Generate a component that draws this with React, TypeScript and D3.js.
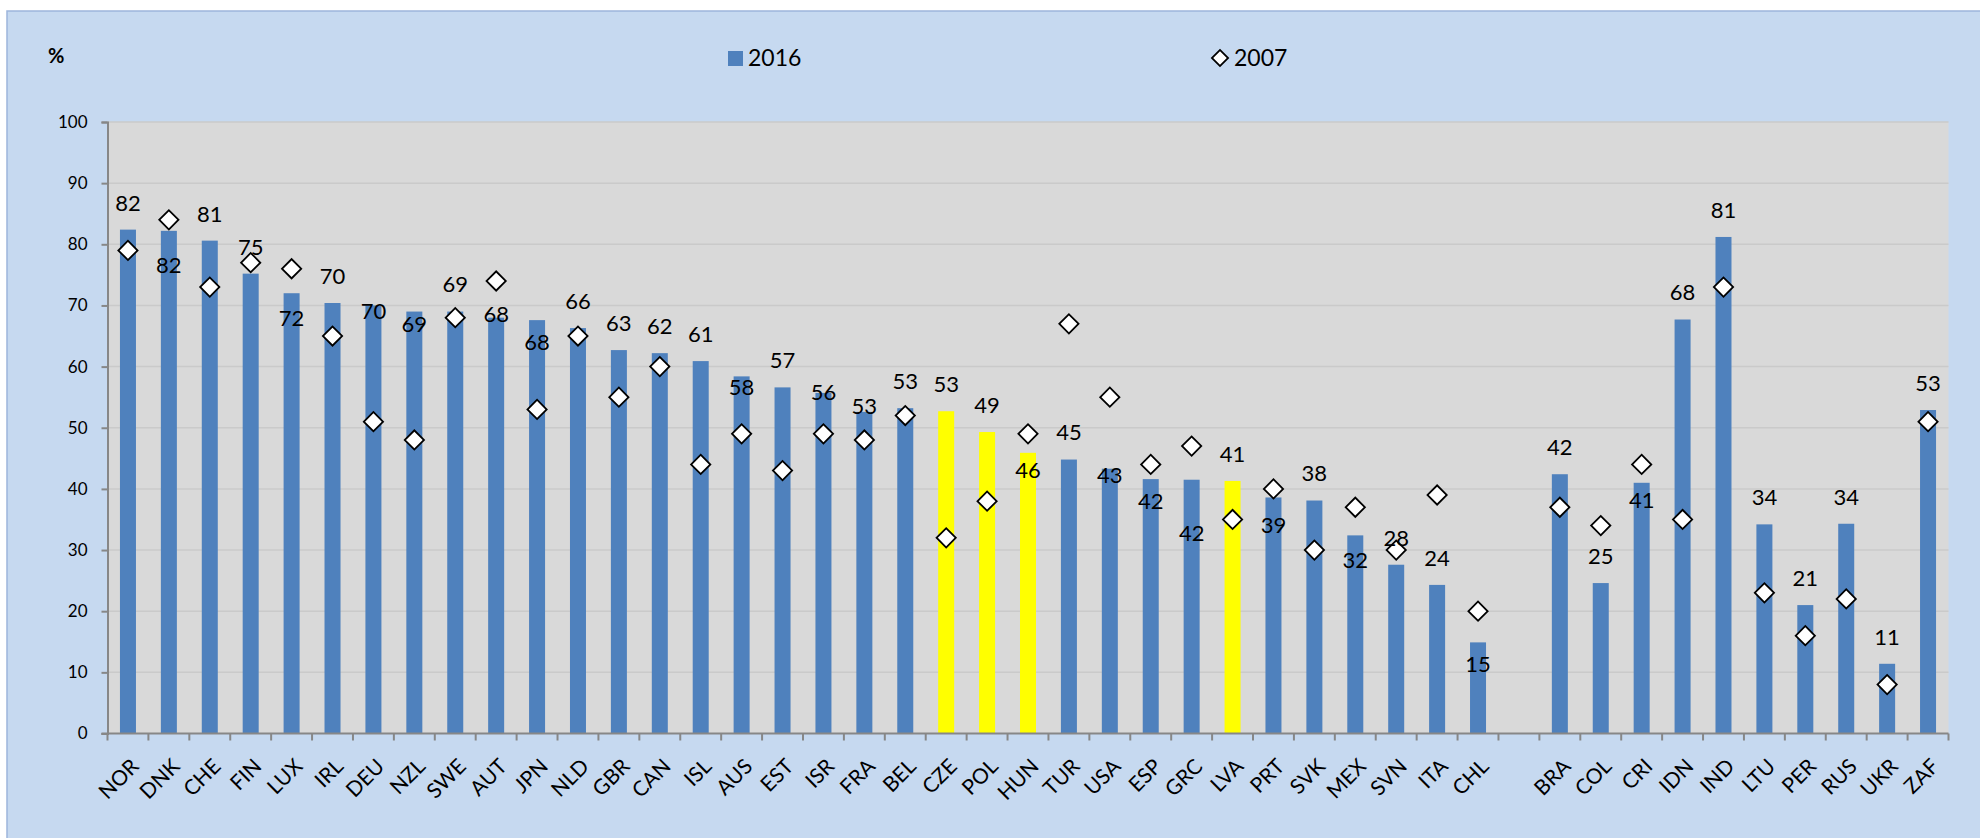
import * as React from 'react';
import {useEffect, useRef} from 'react';
import * as d3 from 'd3';

const width = 1980;
const height = 838;

// '' is the empty slot separating OECD and partner countries
const countries = ['NOR', 'DNK', 'CHE', 'FIN', 'LUX', 'IRL', 'DEU', 'NZL', 'SWE', 'AUT', 'JPN', 'NLD', 'GBR', 'CAN', 'ISL', 'AUS', 'EST', 'ISR', 'FRA', 'BEL', 'CZE', 'POL', 'HUN', 'TUR', 'USA', 'ESP', 'GRC', 'LVA', 'PRT', 'SVK', 'MEX', 'SVN', 'ITA', 'CHL', '', 'BRA', 'COL', 'CRI', 'IDN', 'IND', 'LTU', 'PER', 'RUS', 'UKR', 'ZAF'];

const values2016 = [82.4, 82.2, 80.6, 75.2, 72.0, 70.4, 70.0, 69.0, 69.0, 68.0, 67.6, 66.3, 62.7, 62.2, 60.9, 58.4, 56.6, 55.7, 52.6, 53.2, 52.7, 49.3, 45.9, 44.8, 43.3, 41.6, 41.5, 41.3, 38.6, 38.1, 32.4, 27.6, 24.3, 14.9, null, 42.4, 24.6, 41.0, 67.7, 81.2, 34.2, 21.0, 34.3, 11.4, 52.9];

const values2007 = [79, 84, 73, 77, 76, 65, 51, 48, 68, 74, 53, 65, 55, 60, 44, 49, 43, 49, 48, 52, 32, 38, 49, 67, 55, 44, 47, 35, 40, 30, 37, 30, 39, 20, null, 37, 34, 44, 35, 73, 23, 16, 22, 8, 51];

const highlighted = ['CZE', 'POL', 'HUN', 'LVA'];

// where the 2016 label sits relative to its bar top (px, negative = above)
const labelShift: Record<string, number> = {
  DNK: 34, LUX: 25, DEU: 6, NZL: 13, AUT: -4, JPN: 22, AUS: 11, ISR: -1, FRA: -6,
  HUN: 17, USA: 6, ESP: 22, GRC: 53, PRT: 28, MEX: 25, CHL: 22, CRI: 17
};

const yTicks = [0, 10, 20, 30, 40, 50, 60, 70, 80, 90, 100];

const font = 'Lato, "Open Sans", sans-serif';

export default function App() {
  const ref = useRef<SVGSVGElement>(null);

  useEffect(() => {
    const svg = d3.select(ref.current);
    svg.selectAll('*').remove();

    const left = 107.5, right = 1948.5, top = 122, bottom = 733.5;

    svg.append('rect')
      .attr('x', 7).attr('y', 11)
      .attr('width', width).attr('height', height)
      .attr('fill', '#c6d9f0')
      .attr('stroke', '#9db5dc')
      .attr('stroke-width', 1.5);

    const x = d3.scaleBand<number>()
      .domain(d3.range(countries.length))
      .range([left, right]);
    const y = d3.scaleLinear().domain([0, 100]).range([bottom, top]);

    svg.append('rect')
      .attr('x', left).attr('y', top)
      .attr('width', right - left).attr('height', bottom - top)
      .attr('fill', '#d9d9d9');

    svg.append('g')
      .selectAll('line')
      .data(yTicks.slice(1))
      .join('line')
      .attr('x1', left).attr('x2', right)
      .attr('y1', d => y(d)).attr('y2', d => y(d))
      .attr('stroke', '#cacaca')
      .attr('stroke-width', 1.5);

    const barW = 16;
    const idx = d3.range(countries.length).filter(i => values2016[i] != null);

    svg.append('g')
      .selectAll('rect')
      .data(idx)
      .join('rect')
      .attr('x', i => x(i)! + x.bandwidth() / 2 - barW / 2)
      .attr('y', i => y(values2016[i]!))
      .attr('width', barW)
      .attr('height', i => bottom - y(values2016[i]!))
      .attr('fill', i => highlighted.includes(countries[i]) ? '#ffff00' : '#4f81bd');

    // axes
    const axisColor = '#878787';
    const yAxis = svg.append('g')
      .attr('transform', `translate(${left},0)`)
      .call(d3.axisLeft(y).tickValues(yTicks).tickSize(6).tickPadding(14));
    yAxis.select('.domain').attr('stroke', axisColor).attr('stroke-width', 2);
    yAxis.selectAll('.tick line').attr('stroke', axisColor).attr('stroke-width', 2);
    yAxis.selectAll('.tick text')
      .attr('font-family', font)
      .attr('font-size', 17)
      .attr('fill', '#000');

    const xg = svg.append('g');
    xg.append('line')
      .attr('x1', left - 6).attr('x2', right)
      .attr('y1', bottom).attr('y2', bottom)
      .attr('stroke', axisColor).attr('stroke-width', 2);
    xg.selectAll('line.tk')
      .data(d3.range(countries.length + 1))
      .join('line')
      .attr('class', 'tk')
      .attr('x1', i => left + i * x.step()).attr('x2', i => left + i * x.step())
      .attr('y1', bottom).attr('y2', bottom + 7)
      .attr('stroke', axisColor).attr('stroke-width', 2);
    xg.selectAll('text')
      .data(idx)
      .join('text')
      .attr('transform', i => `translate(${x(i)! + x.bandwidth() / 2 + 7},${bottom + 29}) rotate(-45)`)
      .attr('text-anchor', 'end')
      .attr('dy', '0.35em')
      .attr('font-family', font)
      .attr('font-size', 21)
      .text(i => countries[i]);

    // 2007 diamonds
    const diamond = d3.symbol(d3.symbolSquare, 185)();
    svg.append('g')
      .selectAll('path')
      .data(d3.range(countries.length).filter(i => values2007[i] != null))
      .join('path')
      .attr('d', diamond)
      .attr('transform', i => `translate(${x(i)! + x.bandwidth() / 2},${y(values2007[i]!)}) rotate(45)`)
      .attr('fill', '#fff')
      .attr('stroke', '#000')
      .attr('stroke-width', 1.8);

    // 2016 labels
    svg.append('g')
      .selectAll('text')
      .data(idx)
      .join('text')
      .attr('x', i => x(i)! + x.bandwidth() / 2)
      .attr('y', i => y(values2016[i]!) + (labelShift[countries[i]] ?? -27))
      .attr('dy', '0.36em')
      .attr('text-anchor', 'middle')
      .attr('font-family', font)
      .attr('font-size', 22)
      .attr('fill', '#000')
      .text(i => d3.format('.0f')(values2016[i]!));

    // title unit + legend
    svg.append('text')
      .attr('x', 48).attr('y', 56).attr('dy', '0.35em')
      .attr('font-family', font).attr('font-weight', 'bold').attr('font-size', 20)
      .text('%');

    const legend = svg.append('g').attr('font-family', font).attr('font-size', 23);
    legend.append('rect')
      .attr('x', 728).attr('y', 51).attr('width', 15).attr('height', 15)
      .attr('fill', '#4f81bd');
    legend.append('text')
      .attr('x', 748).attr('y', 58).attr('dy', '0.36em')
      .text('2016');
    legend.append('path')
      .attr('d', d3.symbol(d3.symbolSquare, 130)())
      .attr('transform', 'translate(1220,58) rotate(45)')
      .attr('fill', '#fff').attr('stroke', '#000').attr('stroke-width', 1.8);
    legend.append('text')
      .attr('x', 1234).attr('y', 58).attr('dy', '0.36em')
      .text('2007');
  }, []);

  return (
    <svg ref={ref} width={width} height={height}
      style={{position: 'absolute', left: 0, top: 0, display: 'block', background: '#fff'}}/>
  );
}
